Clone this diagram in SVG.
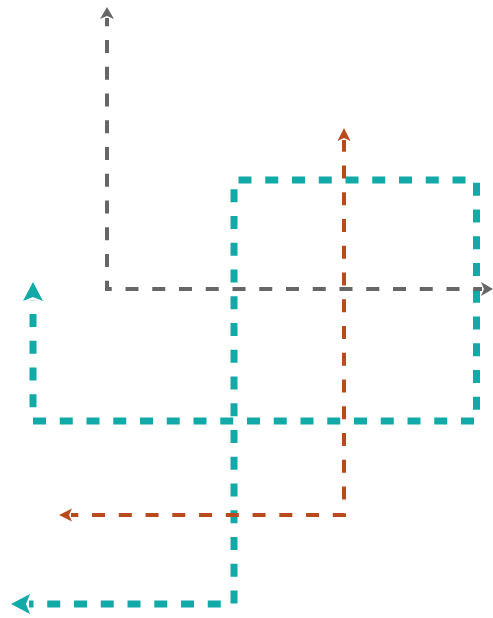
<svg xmlns="http://www.w3.org/2000/svg" width="493" height="618" viewBox="0 0 493 618">
  <style>
    .ln { fill: none; stroke-linejoin: miter; }
    .gray { stroke: #666666; stroke-width: 4; stroke-dasharray: 13 13.75; }
    .orange { stroke: #B84A1C; stroke-width: 4; stroke-dasharray: 13 13.75; }
    .teal { stroke: #12AAA8; stroke-width: 7; stroke-dasharray: 13 13.75; }
  </style>
  <defs>
    <marker id="ag" markerUnits="userSpaceOnUse" viewBox="0 0 12 14" markerWidth="12" markerHeight="14" refX="1" refY="7" orient="auto-start-reverse" overflow="visible">
      <path d="M0,0 L12,7 L0,14 L3,7 Z" fill="#666666"/>
    </marker>
    <marker id="ao" markerUnits="userSpaceOnUse" viewBox="0 0 13 13" markerWidth="13" markerHeight="13" refX="1" refY="6.5" orient="auto-start-reverse" overflow="visible">
      <path d="M0,0 L13,6.5 L0,13 L3,6.5 Z" fill="#B84A1C"/>
    </marker>
    <marker id="at" markerUnits="userSpaceOnUse" viewBox="0 0 19 20" markerWidth="19" markerHeight="20" refX="1" refY="10" orient="auto-start-reverse" overflow="visible">
      <path d="M0,0 L19,10 L0,20 L4,10 Z" fill="#12AAA8"/>
    </marker>
  </defs>
  <g id="connectors">
    <path id="teal-line" class="ln teal" d="M33,300 V421 H476.5 V180 H234 V604 H29" stroke-dashoffset="12.75" marker-start="url(#at)" marker-end="url(#at)"/>
    <path id="gray-line" class="ln gray" d="M107,18 V289 H482" stroke-dashoffset="4.75" marker-start="url(#ag)" marker-end="url(#ag)"/>
    <path id="orange-line" class="ln orange" d="M344,140 V515 H71" stroke-dashoffset="1.3" marker-start="url(#ao)" marker-end="url(#ao)"/>
  </g>
</svg>
